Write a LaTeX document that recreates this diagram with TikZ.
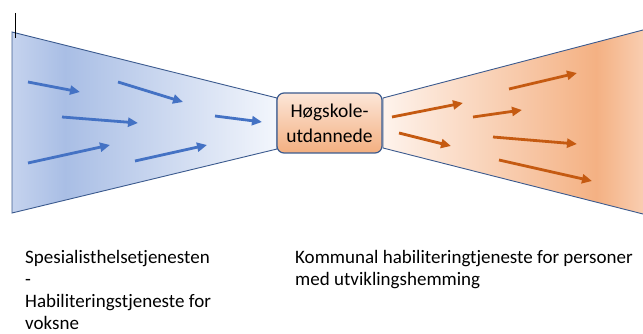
\documentclass[tikz,border=0pt]{standalone}
\usepackage{fontspec}
\setmainfont{Carlito}
\usetikzlibrary{arrows.meta}
\definecolor{blA}{HTML}{C5D3EE}
\definecolor{blB}{HTML}{A9BEE5}
\definecolor{blC}{HTML}{F3F6FC}
\definecolor{orA}{HTML}{FEF3EC}
\definecolor{orB}{HTML}{F4B183}
\definecolor{orC}{HTML}{F9CDB0}
\definecolor{boxT}{HTML}{FCE6D8}
\definecolor{boxB}{HTML}{F3AF80}
\definecolor{edge}{HTML}{3B5A8E}
\definecolor{barrow}{HTML}{4472C4}
\definecolor{oarrow}{HTML}{C55A11}
\pgfdeclarehorizontalshading{blueshade}{100bp}{color(0bp)=(blA); color(25bp)=(blA); color(35bp)=(blB); color(75bp)=(blC); color(100bp)=(blC)}
\pgfdeclarehorizontalshading{orangeshade}{100bp}{color(0bp)=(orA); color(25bp)=(orA); color(66bp)=(orB); color(75bp)=(orC); color(100bp)=(orC)}
\tikzset{
  funnel/.style={draw=edge, line width=0.9pt},
  barr/.style={draw=barrow, line width=2.8pt, -{Triangle[length=10pt,width=9pt]}},
  oarr/.style={draw=oarrow, line width=2.8pt, -{Triangle[length=10pt,width=9pt]}},
  hsbox/.style={draw=edge, line width=1.2pt, rounded corners=7pt, top color=boxT, bottom color=boxB,
    minimum width=105pt, minimum height=60pt, align=center, font=\fontsize{19.5}{25}\selectfont},
  label/.style={align=left, font=\fontsize{19}{22}\selectfont, inner sep=0pt}
}
\begin{document}
\begin{tikzpicture}[x=1pt,y=-1pt]
\useasboundingbox (0,0) rectangle (643,334);
\clip (0,0) rectangle (643,334);
% left funnel
\shade[shading=blueshade] (12,32) -- (277,98) -- (277,149) -- (12,213) -- cycle;
\draw[funnel] (12,32) -- (277,98) -- (277,149) -- (12,213) -- cycle;
% right funnel
\shade[shading=orangeshade] (383,98) -- (643,30) -- (643,214) -- (383,148) -- cycle;
\draw[funnel] (643,30) -- (383,98) -- (383,148) -- (643,214);
% cursor mark
\draw[black, line width=0.8pt] (15,13) -- (15,38);
% blue arrows
\draw[barr] (28,82) -- (80,92);
\draw[barr] (118,82) -- (183,102);
\draw[barr] (62,117) -- (138,123);
\draw[barr] (215,116) -- (262,122);
\draw[barr] (28,163) -- (110,145);
\draw[barr] (135,161) -- (207,145);
% orange arrows
\draw[oarr] (392,117) -- (463,103);
\draw[oarr] (399,133) -- (451,146);
\draw[oarr] (473,117) -- (522,110);
\draw[oarr] (509,89) -- (577,73);
\draw[oarr] (493,137) -- (577,144);
\draw[oarr] (499,160) -- (592,181);
% centre box
\node[hsbox] (hs) at (329.5,123) {Høgskole-\\utdannede};
% labels (anchor base = baseline of last line)
\node[label, anchor=base west] (spes) at (25,329) {Spesialisthelsetjenesten\\-\\Habiliteringstjeneste for\\voksne};
\node[label, anchor=base west] (komm) at (295,285) {Kommunal habiliteringtjeneste for personer\\med utviklingshemming};
\end{tikzpicture}
\end{document}
